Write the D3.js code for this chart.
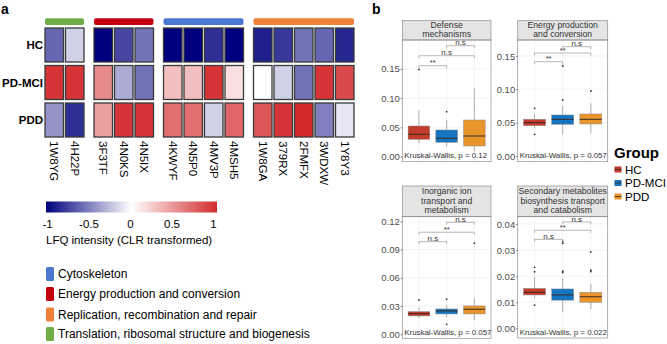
<!DOCTYPE html>
<html>
<head>
<meta charset="utf-8">
<script src="https://cdn.jsdelivr.net/npm/d3@7"></script>
<style>
  body { margin: 0; background: #fff; }
  svg { font-family: "Liberation Sans", Arial, sans-serif; display: block; }
</style>
</head>
<body>
<svg id="chart" width="667" height="344"></svg>
<script>
// ---------- data: panel a (heatmap) ----------
const rowNames = ["HC", "PD-MCI", "PDD"]
const colNames = ["1W8YG", "4H22P", "3F3TF", "4N0KS", "4N5IX", "4KWYF", "4N5P0", "4MV3P", "4MSH5",
                  "1W8GA", "379RX", "2FMFX", "3WDXW", "1Y8Y3"]
const colGroup = [3, 3, 1, 1, 1, 0, 0, 0, 0, 2, 2, 2, 2, 2]
const groupOrder = [3, 1, 0, 2]
const hcValues     = [-0.6, -0.18, -1, -0.72, -0.55, -1, -1, -0.82, -1, -0.88, -0.78, -0.55, -0.6, -0.85]
const pdmciValues  = [0.95, 0.95, 0.55, -0.33, -0.55, 0.3, 0.3, 0.95, 0.15, 0, -0.18, -0.55, 0.95, 0.85]
const pddValues    = [-0.42, -0.82, 0.45, 0.95, 0.95, 0.68, 0.68, -0.18, 0.72, 0.8, 0.95, 1, -0.5, -0.1]
const cogNames = ["Cytoskeleton", "Energy production and conversion",
                  "Replication, recombination and repair", "Translation, ribosomal structure and biogenesis"]
const cogColors = ["#4a78d0", "#c40010", "#ef8038", "#6fae47"]
const colorTicks = [-1, -0.5, 0, 0.5, 1]

// ---------- data: panel b (boxplots) ----------
const groupNames = ["HC", "PD-MCI", "PDD"]
const groupColors = ["#c33b2a", "#1575c1", "#e8952c"]
const panelTitles = [["Defense", "mechanisms"], ["Energy production", "and conversion"],
                     ["Inorganic ion", "transport and", "metabolism"],
                     ["Secondary metabolites", "biosynthesis transport", "and catabolism"]]
const panelTicks = [[0, 0.05, 0.10, 0.15], [0, 0.05, 0.10, 0.15],
                    [0, 0.03, 0.06, 0.09, 0.12], [0, 0.01, 0.02, 0.03, 0.04]]
const kwLabels = ["Kruskal-Wallis, p = 0.12", "Kruskal-Wallis, p = 0.057",
                  "Kruskal-Wallis, p = 0.057", "Kruskal-Wallis, p = 0.022"]
// [lowWhisker, q1, median, q3, highWhisker]
const defenseStats = [[0.0226, 0.0295, 0.038, 0.0522, 0.0796], [0.0168, 0.0243, 0.0312, 0.0454, 0.0625], [0.0082, 0.018, 0.0351, 0.0625, 0.1168]]
const energyStats = [[0.0415, 0.0455, 0.05, 0.055, 0.063], [0.0325, 0.0475, 0.055, 0.0615, 0.075], [0.034, 0.048, 0.055, 0.063, 0.079]]
const inorganicStats = [[0.017, 0.0195, 0.0219, 0.024, 0.0287], [0.0181, 0.0216, 0.0248, 0.0269, 0.0312], [0.0152, 0.0216, 0.0266, 0.0301, 0.0383]]
const secondaryStats = [[0.0115, 0.0128, 0.0138, 0.0153, 0.0198], [0.0064, 0.0108, 0.0128, 0.0151, 0.0192], [0.0074, 0.01, 0.0121, 0.0138, 0.017]]
const defenseOut = [[0.149], [0.0767], []]
const energyOut = [[0.0715, 0.0325], [0.084, 0.135], [0.0975]]
const inorganicOut = [[0.0365], [0.0372, 0.0106], [0.0968]]
const secondaryOut = [[0.0234, 0.0217, 0.0089], [0.0219, 0.0214, 0.0332, 0.0326], [0.0223, 0.0218, 0.0293]]
// [groupA, groupB, y, label]
const defenseSig = [[0, 1, 0.1555, "**"], [0, 2, 0.1726, "n.s"], [1, 2, 0.1897, "n.s"]]
const energySig = [[0, 1, 0.1415, "**"], [0, 2, 0.1545, "**"], [1, 2, 0.164, "n.s"]]
const inorganicSig = [[0, 1, 0.0985, "n.s"], [0, 2, 0.1085, "**"], [1, 2, 0.119, "n.s"]]
const secondarySig = [[0, 1, 0.0341, "n.s"], [0, 2, 0.0376, "**"], [1, 2, 0.0408, "n.s"]]

const svg = d3.select("#chart")

// ================= panel a =================
svg.append("text").attr("x", 1).attr("y", 13.5)
    .attr("font-size", 14).attr("font-weight", "bold").text("a")

const color = d3.scaleLinear().domain([-1, 0, 1]).range(["#00007e", "#ffffff", "#d42a2c"])

const cellW = 18.5, cellStep = 20.5, groupGap = 8
const rowTop = 28, rowStep = 37.5, cellH = 34
const colX = (i) => {
    const gi = groupOrder.indexOf(colGroup[i])
    return 45 + i * cellStep + gi * groupGap
}
const rowData = [hcValues, pdmciValues, pddValues]

// category bars on top
groupOrder.forEach(g => {
    const idx = colGroup.map((c, i) => c === g ? i : -1).filter(i => i >= 0)
    const x0 = colX(d3.min(idx)), x1 = colX(d3.max(idx)) + cellW
    svg.append("rect").attr("x", x0).attr("y", 18.3).attr("width", x1 - x0).attr("height", 6.7)
        .attr("rx", 2).attr("fill", cogColors[g])
})

rowData.forEach((vals, r) => {
    svg.append("g").selectAll("rect")
        .data(vals)
        .enter()
        .append("rect")
        .attr("x", (d, i) => colX(i))
        .attr("y", rowTop + r * rowStep)
        .attr("width", cellW)
        .attr("height", cellH)
        .attr("fill", d => color(d))
        .attr("stroke", "#3a3a3a")
        .attr("stroke-width", 1.3)

    svg.append("text")
        .attr("x", 43).attr("y", rowTop + r * rowStep + cellH / 2)
        .attr("text-anchor", "end").attr("dominant-baseline", "central")
        .attr("font-size", 11.5).attr("font-weight", "bold")
        .text(rowNames[r])
})

svg.append("g").selectAll("text")
    .data(colNames)
    .enter()
    .append("text")
    .attr("transform", (d, i) => `translate(${colX(i) + cellW / 2},141) rotate(90)`)
    .attr("dominant-baseline", "central")
    .attr("font-size", 11.5)
    .text(d => d)

// colour bar
const defs = svg.append("defs")
const grad = defs.append("linearGradient").attr("id", "lfq")
d3.range(0, 1.0001, 0.05).forEach(t => {
    grad.append("stop").attr("offset", t).attr("stop-color", color(-1 + 2 * t))
})
svg.append("rect").attr("x", 46).attr("y", 201.5).attr("width", 171).attr("height", 11)
    .attr("fill", "url(#lfq)")

const cbScale = d3.scaleLinear().domain([-1, 1]).range([47.5, 213.5])
svg.append("g").selectAll("text")
    .data(colorTicks)
    .enter()
    .append("text")
    .attr("x", d => cbScale(d)).attr("y", 228)
    .attr("text-anchor", "middle").attr("font-size", 11.5)
    .text(d => d)
svg.append("text").attr("x", 46).attr("y", 243.5).attr("font-size", 11.5)
    .text("LFQ intensity (CLR transformed)")

// category legend
const legY = [274, 294, 314.5, 334]
cogNames.forEach((name, i) => {
    svg.append("rect").attr("x", 46).attr("y", legY[i] - 7).attr("width", 8).attr("height", 14)
        .attr("rx", 1.5).attr("fill", cogColors[i])
    svg.append("text").attr("x", 58).attr("y", legY[i]).attr("dominant-baseline", "central")
        .attr("font-size", 12).text(name)
})

// ================= panel b =================
svg.append("text").attr("x", 372).attr("y", 14)
    .attr("font-size", 14).attr("font-weight", "bold").text("b")

const panels = [
    {x0: 402.3, x1: 491, hTop: 20.7, pTop: 40, pBot: 161.7, dom: [-0.0089, 0.1995], stats: defenseStats, out: defenseOut, sig: defenseSig},
    {x0: 517.7, x1: 607.7, hTop: 20.7, pTop: 40, pBot: 161.7, dom: [-0.0086, 0.174], stats: energyStats, out: energyOut, sig: energySig},
    {x0: 402.3, x1: 491, hTop: 186, pTop: 216.7, pBot: 338.3, dom: [-0.0043, 0.125], stats: inorganicStats, out: inorganicOut, sig: inorganicSig},
    {x0: 517.7, x1: 607.7, hTop: 186, pTop: 216.7, pBot: 338, dom: [-0.0037, 0.0428], stats: secondaryStats, out: secondaryOut, sig: secondarySig}
]

panels.forEach((p, pi) => {
    const g = svg.append("g")
    const y = d3.scaleLinear().domain(p.dom).range([p.pBot, p.pTop])
    const unit = (p.x1 - p.x0) / 3.2
    const x = (i) => p.x0 + (0.6 + i) * unit
    const bw = unit * 0.78

    // grid
    g.selectAll(".hgrid").data(panelTicks[pi]).enter().append("line")
        .attr("x1", p.x0).attr("x2", p.x1).attr("y1", d => y(d)).attr("y2", d => y(d))
        .attr("stroke", "#ececec").attr("stroke-width", 0.6)
    g.selectAll(".vgrid").data([0, 1, 2]).enter().append("line")
        .attr("x1", d => x(d)).attr("x2", d => x(d)).attr("y1", p.pTop).attr("y2", p.pBot)
        .attr("stroke", "#ececec").attr("stroke-width", 0.6)

    // y axis
    const axis = d3.axisLeft(y).tickValues(panelTicks[pi]).tickSize(1.5).tickPadding(1)
        .tickFormat(d3.format(".2f"))
    const ax = g.append("g").attr("transform", `translate(${p.x0},0)`).call(axis)
    ax.select(".domain").remove()
    ax.selectAll(".tick line").attr("stroke", "#666")
    ax.selectAll(".tick text").attr("font-size", 9.5).attr("fill", "#4d4d4d")
        .attr("font-family", "Liberation Sans, Arial, sans-serif")

    // boxes
    p.stats.forEach((s, i) => {
        g.append("line").attr("x1", x(i)).attr("x2", x(i)).attr("y1", y(s[0])).attr("y2", y(s[4]))
            .attr("stroke", "#9a9a9a").attr("stroke-width", 0.8)
        g.append("rect").attr("x", x(i) - bw / 2).attr("y", y(s[3]))
            .attr("width", bw).attr("height", y(s[1]) - y(s[3]))
            .attr("fill", groupColors[i]).attr("stroke", "#8a8a8a").attr("stroke-width", 0.5)
        g.append("line").attr("x1", x(i) - bw / 2).attr("x2", x(i) + bw / 2)
            .attr("y1", y(s[2])).attr("y2", y(s[2]))
            .attr("stroke", "#3b2a22").attr("stroke-width", 1)
        g.selectAll(null).data(p.out[i]).enter().append("circle")
            .attr("cx", x(i)).attr("cy", d => y(d)).attr("r", 0.9).attr("fill", "#333")
    })

    // significance brackets
    p.sig.forEach(([a, b, v, lab]) => {
        const yy = y(v)
        g.append("path")
            .attr("d", `M${x(a)},${yy + 2.5}V${yy}H${x(b)}V${yy + 2.5}`)
            .attr("fill", "none").attr("stroke", "#9a9a9a").attr("stroke-width", 0.7)
        g.append("text").attr("x", (x(a) + x(b)) / 2).attr("y", yy - 0.4)
            .attr("text-anchor", "middle").attr("font-size", lab === "**" ? 7.5 : 8)
            .attr("fill", "#333").text(lab)
    })

    // kruskal label
    g.append("text").attr("x", p.x0 + 2).attr("y", p.pBot - 3.3)
        .attr("font-size", 7.9).attr("fill", "#333").text(kwLabels[pi])

    // strip header
    g.append("rect").attr("x", p.x0).attr("y", p.hTop).attr("width", p.x1 - p.x0)
        .attr("height", p.pTop - p.hTop).attr("fill", "#e4e4e4").attr("stroke", "#8c8c8c").attr("stroke-width", 0.7)
    const lines = panelTitles[pi]
    const mid = (p.hTop + p.pTop) / 2 - 0.7
    lines.forEach((t, li) => {
        g.append("text").attr("x", (p.x0 + p.x1) / 2)
            .attr("y", mid + (li - (lines.length - 1) / 2) * 9.2)
            .attr("text-anchor", "middle").attr("dominant-baseline", "central")
            .attr("font-size", 8.7).attr("fill", "#333").text(t)
    })

    // frame
    g.append("rect").attr("x", p.x0).attr("y", p.pTop).attr("width", p.x1 - p.x0)
        .attr("height", p.pBot - p.pTop).attr("fill", "none").attr("stroke", "#8c8c8c").attr("stroke-width", 0.7)
})

// group legend
svg.append("text").attr("x", 614).attr("y", 157.5).attr("font-size", 15).attr("font-weight", "bold")
    .text("Group")
const gLegY = [169.5, 183, 196.5]
groupNames.forEach((name, i) => {
    svg.append("rect").attr("x", 614.5).attr("y", gLegY[i] - 3).attr("width", 7).attr("height", 6)
        .attr("fill", groupColors[i])
    svg.append("line").attr("x1", 614.5).attr("x2", 621.5).attr("y1", gLegY[i]).attr("y2", gLegY[i])
        .attr("stroke", "#3b2a22").attr("stroke-width", 0.8)
    svg.append("text").attr("x", 625).attr("y", gLegY[i]).attr("dominant-baseline", "central")
        .attr("font-size", 11.5).text(name)
})
</script>
</body>
</html>
